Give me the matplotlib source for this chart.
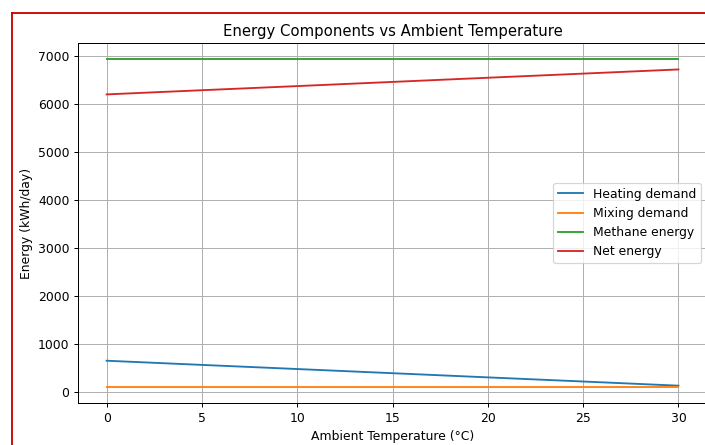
import matplotlib
matplotlib.use('Agg')
import matplotlib.pyplot as plt
from matplotlib.lines import Line2D

temps = [0, 5, 10, 15, 20, 25, 30]
heating = [650, 563, 477, 390, 303, 217, 130]
mixing = [110, 110, 110, 110, 110, 110, 110]
methane = [6930, 6930, 6930, 6930, 6930, 6930, 6930]
net = [6200, 6287, 6373, 6460, 6547, 6633, 6720]

DPI = 89
W, H = 705, 445
fig = plt.figure(figsize=(W / DPI, H / DPI), dpi=DPI)
ax = fig.add_axes([78 / W, 1 - 403 / H, (707 - 78) / W, (403 - 43) / H])

ax.plot(temps, heating, label='Heating demand')
ax.plot(temps, mixing, label='Mixing demand')
ax.plot(temps, methane, label='Methane energy')
ax.plot(temps, net, label='Net energy')

ax.set_title('Energy Components vs Ambient Temperature')
ax.set_xlabel('Ambient Temperature (°C)')
ax.set_ylabel('Energy (kWh/day)')
ax.grid(True)
ax.legend(loc='center right')

# red frame from the screenshot
fig.add_artist(Line2D([12 / W, 12 / W], [0, 1 - 13 / H], color='#cc0000', lw=1.5))
fig.add_artist(Line2D([12 / W, 1], [1 - 13 / H, 1 - 13 / H], color='#cc0000', lw=1.5))

fig.savefig('out.png', dpi=DPI)
